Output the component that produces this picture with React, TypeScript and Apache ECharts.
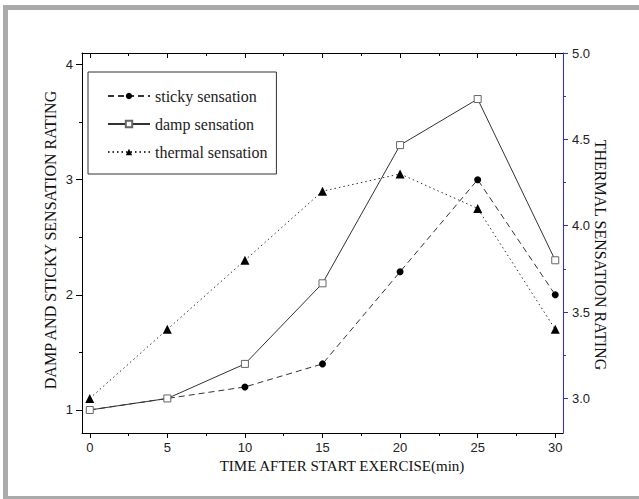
import React, { useEffect, useRef } from "react";
import * as echarts from "echarts";

const times = [0, 5, 10, 15, 20, 25, 30];
const sticky = [1.0, 1.1, 1.2, 1.4, 2.2, 3.0, 2.0];
const damp = [1.0, 1.1, 1.4, 2.1, 3.3, 3.7, 2.3];
const thermal = [3.0, 3.4, 3.8, 4.2, 4.3, 4.1, 3.4];

const xMajor = [0, 5, 10, 15, 20, 25, 30];
const xMinor = [2.5, 7.5, 12.5, 17.5, 22.5, 27.5];
const leftMajor = [1, 2, 3, 4];
const leftMinor = [1.5, 2.5, 3.5];
const rightMajor = [3.0, 3.5, 4.0, 4.5, 5.0];
const rightMinor = [3.25, 3.75, 4.25, 4.75];

const seriesNames = ["sticky sensation", "damp sensation", "thermal sensation"];

const SANS = "'Liberation Sans', Arial, sans-serif";
const SERIF = "'Liberation Serif', 'Times New Roman', serif";
const BLUE = "#2a2aff";
const INK = "#222";

export default function App() {
  const ref = useRef<HTMLDivElement>(null);
  useEffect(() => {
    document.body.style.margin = "0";
    const chart = echarts.init(ref.current!, null, { renderer: "svg" });
    const pair = (ys: number[]) => times.map((t, i) => [t, ys[i]]);
    const xBase = { type: "value", min: -0.5, max: 30.5, splitLine: { show: false } };
    const yL = { type: "value", min: 0.8, max: 4.1, splitLine: { show: false } };
    const yR = { type: "value", min: 2.8, max: 5.0, splitLine: { show: false } };
    const line = (color: string, show = true) => ({ show, onZero: false, lineStyle: { color, width: 1 } });
    const tick = (values: number[], length: number, color: string, inside = false) => ({
      show: true,
      inside,
      customValues: values,
      length,
      lineStyle: { color, width: 1 },
    });
    chart.setOption({
      animation: false,
      backgroundColor: "#fff",
      textStyle: { fontFamily: SERIF },
      grid: { left: 82, right: 76, top: 53, bottom: 66 },
      legend: {
        orient: "vertical",
        left: 88,
        top: 72,
        padding: [16, 9, 14, 19],
        itemWidth: 42,
        itemHeight: 8,
        itemGap: 12,
        borderColor: "#333",
        borderWidth: 1,
        data: seriesNames,
        textStyle: { fontFamily: SERIF, fontSize: 16, color: INK },
      },
      xAxis: [
        {
          ...xBase,
          position: "bottom",
          axisLine: line("#000"),
          axisTick: tick(xMajor, 5, "#000"),
          axisLabel: { customValues: xMajor, fontFamily: SANS, fontSize: 13, color: INK, margin: 8 },
        },
        {
          ...xBase,
          position: "bottom",
          axisLine: line("#000", false),
          axisTick: tick(xMinor, 3, "#000"),
          axisLabel: { show: false },
        },
        {
          ...xBase,
          position: "top",
          axisLine: line("#000"),
          axisTick: tick(xMajor, 5, "#000", true),
          axisLabel: { show: false },
        },
        {
          ...xBase,
          position: "top",
          axisLine: line("#000", false),
          axisTick: tick(xMinor, 3, "#000", true),
          axisLabel: { show: false },
        },
      ],
      yAxis: [
        {
          ...yL,
          position: "left",
          axisLine: line("#000"),
          axisTick: tick(leftMajor, 6, "#000"),
          axisLabel: { customValues: leftMajor, fontFamily: SANS, fontSize: 13, color: INK, margin: 9 },
        },
        {
          ...yL,
          position: "left",
          axisLine: line("#000", false),
          axisTick: tick(leftMinor, 3, "#000"),
          axisLabel: { show: false },
        },
        {
          ...yR,
          position: "right",
          axisLine: line(BLUE),
          axisTick: tick(rightMajor, 5, BLUE),
          axisLabel: {
            customValues: rightMajor,
            fontFamily: SANS,
            fontSize: 13,
            color: INK,
            margin: 9,
            formatter: (v: number) => v.toFixed(1),
          },
        },
        {
          ...yR,
          position: "right",
          axisLine: line(BLUE, false),
          axisTick: tick(rightMinor, 3, BLUE),
          axisLabel: { show: false },
        },
      ],
      series: [
        {
          name: seriesNames[0],
          type: "line",
          xAxisIndex: 0,
          yAxisIndex: 0,
          data: pair(sticky),
          symbol: "circle",
          symbolSize: 7,
          itemStyle: { color: "#000" },
          lineStyle: { color: "#333", width: 1, type: [6, 4] },
        },
        {
          name: seriesNames[1],
          type: "line",
          xAxisIndex: 0,
          yAxisIndex: 0,
          data: pair(damp),
          symbol: "rect",
          symbolSize: 7,
          itemStyle: { color: "#fff", borderColor: "#666", borderWidth: 1 },
          lineStyle: { color: "#333", width: 1, type: "solid" },
        },
        {
          name: seriesNames[2],
          type: "line",
          xAxisIndex: 0,
          yAxisIndex: 2,
          data: pair(thermal),
          symbol: "triangle",
          symbolSize: 9,
          itemStyle: { color: "#000" },
          lineStyle: { color: "#333", width: 1, type: [1.5, 3] },
        },
      ],
      graphic: [
        { type: "rect", silent: true, shape: { x: 3, y: 5, width: 5, height: 494 }, style: { fill: "#aaaaaa" } },
        { type: "rect", silent: true, shape: { x: 3, y: 5, width: 636, height: 5 }, style: { fill: "#aaaaaa" } },
        { type: "rect", silent: true, shape: { x: 3, y: 496, width: 636, height: 3 }, style: { fill: "#aaaaaa" } },
        {
          type: "text",
          x: 50,
          y: 240,
          rotation: Math.PI / 2,
          style: {
            text: "DAMP AND STICKY SENSATION RATING",
            fontFamily: SERIF,
            fontSize: 16,
            fill: "#111",
            align: "center",
            verticalAlign: "middle",
          },
        },
        {
          type: "text",
          x: 600,
          y: 255,
          rotation: -Math.PI / 2,
          style: {
            text: "THERMAL SENSATION RATING",
            fontFamily: SERIF,
            fontSize: 16,
            fill: "#111",
            align: "center",
            verticalAlign: "middle",
          },
        },
        {
          type: "text",
          x: 342,
          y: 466,
          style: {
            text: "TIME AFTER START EXERCISE(min)",
            fontFamily: SERIF,
            fontSize: 15,
            fill: "#111",
            align: "center",
            verticalAlign: "middle",
          },
        },
      ],
    });
    return () => chart.dispose();
  }, []);
  return <div ref={ref} style={{ width: 639, height: 499 }} />;
}
